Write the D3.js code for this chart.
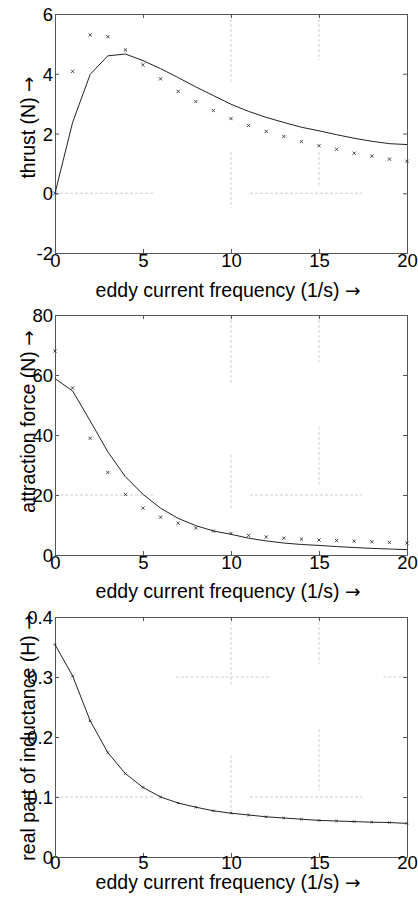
<!DOCTYPE html>
<html><head><meta charset="utf-8">
<script src="https://cdn.jsdelivr.net/npm/d3@7"></script>
<style>
html,body{margin:0;padding:0;background:#fff;}
svg{display:block;}
text{font-family:"Liberation Sans",Arial,Helvetica,sans-serif;fill:#000;}
</style></head><body>
<script>
// ---------- data ----------
const frequency = [0,1,2,3,4,5,6,7,8,9,10,11,12,13,14,15,16,17,18,19,20];
const thrustMeasured = [0,4.08,5.30,5.24,4.80,4.30,3.83,3.41,3.07,2.77,2.50,2.27,2.07,1.90,1.73,1.59,1.47,1.34,1.24,1.14,1.07];
const thrustComputed = [0,2.37,3.98,4.60,4.66,4.44,4.17,3.87,3.56,3.27,2.98,2.74,2.54,2.37,2.21,2.09,1.96,1.84,1.74,1.66,1.63];
const forceMeasured = [68,55.7,38.9,27.5,20.2,15.6,12.6,10.6,9.0,8.0,7.2,6.5,6.0,5.6,5.3,5.0,4.8,4.6,4.4,4.2,4.0];
const forceComputed = [58.8,54.7,44.7,34.4,26.1,20.2,15.6,12.2,9.8,8.0,6.9,5.6,4.7,4.0,3.5,3.2,2.8,2.5,2.2,2.0,1.8];
const inductanceMeasured = [0.354,0.302,0.227,0.174,0.139,0.116,0.100,0.090,0.083,0.077,0.073,0.070,0.067,0.065,0.063,0.061,0.060,0.059,0.058,0.0575,0.056];
const inductanceComputed = [0.354,0.302,0.227,0.174,0.139,0.116,0.100,0.090,0.083,0.077,0.073,0.070,0.067,0.065,0.063,0.061,0.060,0.059,0.058,0.0575,0.056];
const xTicks = [0,5,10,15,20];
const thrustTicks = [-2,0,2,4,6];
const forceTicks = [0,20,40,60,80];
const inductanceTicks = [0,0.1,0.2,0.3,0.4];
const xLabel = "eddy current frequency (1/s)";
const yLabels = ["thrust (N)","attraction force (N)","real part of inductance (H)"];
const arrow = "\u2192";
// partial dashed grid pieces visible in the picture (data units)
const thrustGridV = [[10,6,3.73],[10,1.38,-0.49],[15,6,4.46],[15,1.38,0.28]];
const thrustGridH = [[0,0,5.68],[0,11.08,17.45]];
const forceGridV = [[10,80,57],[10,33.3,15],[15,80,64.3],[15,42.7,22.7]];
const forceGridH = [[20,0,5.68],[20,11.08,17.45]];
const inductanceGridV = [[10,0.4,0.285],[10,0.17,0.073],[15,0.4,0.322],[15,0.213,0.111]];
const inductanceGridH = [[0.3,6.86,12.27],[0.3,18.66,20],[0.1,0,5.68],[0.1,11.08,17.45]];

// ---------- layout ----------
const W = 418, H = 898;
const fmtInt = v => String(v).replace("\u2212","-");
const panels = [
  {top:14, bottom:253, dom:[-2,6], ticks:thrustTicks, meas:thrustMeasured, comp:thrustComputed, gv:thrustGridV, gh:thrustGridH, label:yLabels[0], fmt:fmtInt, small:false, tickBase:14, titleBase:44, labelMid:127.5},
  {top:315, bottom:555, dom:[0,80], ticks:forceTicks, meas:forceMeasured, comp:forceComputed, gv:forceGridV, gh:forceGridH, label:yLabels[1], fmt:fmtInt, small:false, tickBase:13.5, titleBase:43, labelMid:421.5},
  {top:617, bottom:857, dom:[0,0.4], ticks:inductanceTicks, meas:inductanceMeasured, comp:inductanceComputed, gv:inductanceGridV, gh:inductanceGridH, label:yLabels[2], fmt:v=>v===0?"0":d3.format(".1f")(v), small:true, tickBase:12, titleBase:31.5, labelMid:737.5}
];
const left = 55, right = 407;
const tickFs = 18.5, titleFs = 19.5;

const svg = d3.select("body").append("svg").attr("width",W).attr("height",H);
const x = d3.scaleLinear().domain([0,20]).range([left,right]);

function addLabel(sel, txt){
  sel.append("tspan").text(txt + " ");
  sel.append("tspan").attr("font-family","DejaVu Sans").attr("font-size",titleFs*0.95).text(arrow);
}

panels.forEach(p=>{
  const y = d3.scaleLinear().domain(p.dom).range([p.bottom,p.top]);
  const g = svg.append("g");
  // grid pieces
  g.selectAll(".gv").data(p.gv).enter().append("line")
    .attr("x1",d=>x(d[0])).attr("x2",d=>x(d[0])).attr("y1",d=>y(d[1])).attr("y2",d=>y(d[2]))
    .attr("stroke","#cfcfcf").attr("stroke-width",1).attr("stroke-dasharray","3,2");
  g.selectAll(".gh").data(p.gh).enter().append("line")
    .attr("y1",d=>y(d[0])).attr("y2",d=>y(d[0])).attr("x1",d=>x(d[1])).attr("x2",d=>x(d[2]))
    .attr("stroke","#cfcfcf").attr("stroke-width",1).attr("stroke-dasharray","3,2");
  // axes (ticks inside)
  const tl = 4;
  const bottomAx = d3.axisBottom(x).tickValues(xTicks).tickSizeInner(-tl).tickSizeOuter(0).tickPadding(0).tickFormat(d3.format("d"));
  const topAx = d3.axisTop(x).tickValues(xTicks).tickSizeInner(-tl).tickSizeOuter(0).tickFormat("");
  const leftAx = d3.axisLeft(y).tickValues(p.ticks).tickSizeInner(-tl).tickSizeOuter(0).tickPadding(2).tickFormat(p.fmt);
  const rightAx = d3.axisRight(y).tickValues(p.ticks).tickSizeInner(-tl).tickSizeOuter(0).tickFormat("");
  const gb = g.append("g").attr("transform",`translate(0,${p.bottom})`).call(bottomAx);
  const gt = g.append("g").attr("transform",`translate(0,${p.top})`).call(topAx);
  const gl = g.append("g").attr("transform",`translate(${left},0)`).call(leftAx);
  const gr = g.append("g").attr("transform",`translate(${right},0)`).call(rightAx);
  [gb,gt,gl,gr].forEach(a=>{
    a.selectAll("path").attr("stroke","#555").attr("stroke-width",1);
    a.selectAll("line").attr("stroke","#555").attr("stroke-width",1);
    a.selectAll("text").attr("font-size",tickFs).attr("font-family","Liberation Sans, Arial, sans-serif").attr("fill","#000");
  });
  gb.selectAll("text").attr("y",p.tickBase).attr("dy",null);
  gl.selectAll("text").attr("dy","0.36em");
  // computed line
  const line = d3.line().x((d,i)=>x(frequency[i])).y(d=>y(d));
  g.append("path").datum(p.comp).attr("d",line).attr("fill","none").attr("stroke","#222").attr("stroke-width",1);
  // measured crosses
  const s = p.small?1.2:1.6;
  g.selectAll(".m").data(p.meas).enter().append("path")
    .attr("d",(d,i)=>{const cx=x(frequency[i]), cy=y(d); return `M${cx-s},${cy-s}L${cx+s},${cy+s}M${cx-s},${cy+s}L${cx+s},${cy-s}`;})
    .attr("stroke","#333").attr("stroke-width",0.9).attr("fill","none");
  // labels
  const xt = g.append("text").attr("x",228).attr("y",p.bottom+p.titleBase).attr("text-anchor","middle").attr("font-size",titleFs);
  addLabel(xt, xLabel);
  const yt = g.append("text").attr("transform",`translate(35,${p.labelMid}) rotate(-90)`).attr("text-anchor","middle").attr("font-size",titleFs);
  addLabel(yt, p.label);
});
</script>
</body></html>
